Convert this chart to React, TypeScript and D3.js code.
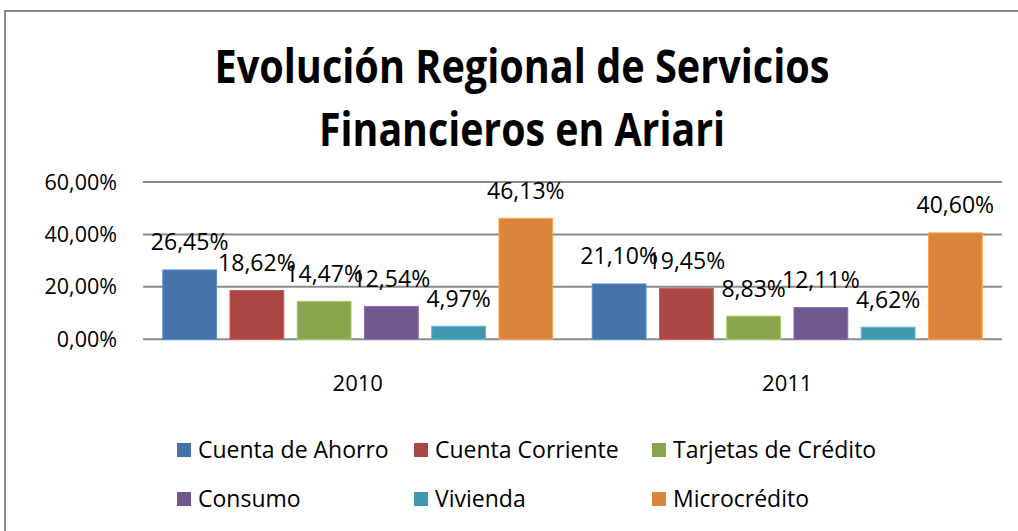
import React from "react";
import * as d3 from "d3";

const title = ["Evolución Regional de Servicios", "Financieros en Ariari"];
const years = ["2010", "2011"];
const seriesNames = [
  "Cuenta de Ahorro",
  "Cuenta Corriente",
  "Tarjetas de Crédito",
  "Consumo",
  "Vivienda",
  "Microcrédito",
];
const values2010 = [26.45, 18.62, 14.47, 12.54, 4.97, 46.13];
const values2011 = [21.1, 19.45, 8.83, 12.11, 4.62, 40.6];
const yTicks = [0, 20, 40, 60];
const colors = ["#4572a7", "#aa4643", "#89a54e", "#71588f", "#4198af", "#db843d"];

const fmt = (v: number) => v.toFixed(2).replace(".", ",") + "%";

export default function App() {
  const W = 1018;
  const H = 531;
  const plotL = 143;
  const plotR = 1002;
  const y = d3.scaleLinear().domain([0, 60]).range([339.3, 182]);
  const x0 = d3.scaleBand<string>().domain(years).range([plotL, plotR]).paddingInner(0.092).paddingOuter(0.046);
  const x1 = d3
    .scaleBand<string>()
    .domain(seriesNames)
    .range([0, x0.bandwidth()])
    .paddingInner(0.2);
  const data = [values2010, values2011];
  const font = "'Open Sans', 'Noto Sans', sans-serif";
  const legendCols = [177, 414, 652];
  const legendRows = [450, 499];

  return (
    <svg
      width={W}
      height={H}
      style={{ position: "absolute", left: 0, top: 0, background: "#fff" }}
      fontFamily={font}
    >
      <rect x={0} y={0} width={W} height={H} fill="#fff" />
      <rect x={5} y={11} width={1100} height={700} fill="none" stroke="#8a8a8a" strokeWidth={2} />
      {title.map((t, i) => (
        <text
          key={i}
          x={522}
          y={i === 0 ? 83 : 146}
          textAnchor="middle"
          fontSize={47}
          fontWeight={700}
          fill="#000"
          textLength={i === 0 ? 615 : 406}
          lengthAdjust="spacingAndGlyphs"
        >
          {t}
        </text>
      ))}
      {yTicks.map((t) => (
        <g key={t}>
          <line x1={plotL} x2={plotR} y1={y(t)} y2={y(t)} stroke="#8c8c8c" strokeWidth={2} />
          <text x={117} y={y(t) + 7.5} textAnchor="end" fontSize={21.5} fill="#000">
            {t.toFixed(2).replace(".", ",") + "%"}
          </text>
        </g>
      ))}
      {years.map((yr, gi) => (
        <g key={yr} transform={`translate(${x0(yr)},0)`}>
          {seriesNames.map((s, si) => {
            const v = data[gi][si];
            const bx = x1(s)!;
            const bw = x1.bandwidth();
            return (
              <g key={s}>
                <rect
                  x={bx}
                  y={y(v)}
                  width={bw}
                  height={y(0) - y(v)}
                  fill={colors[si]}
                  stroke={d3.color(colors[si])!.brighter(0.6).formatHex()}
                  strokeWidth={1}
                />
                <text x={bx + bw / 2} y={y(v) - 19.5} textAnchor="middle" fontSize={23} fill="#000">
                  {fmt(v)}
                </text>
              </g>
            );
          })}
          <text x={x0.bandwidth() / 2} y={391} textAnchor="middle" fontSize={22} fill="#000">
            {yr}
          </text>
        </g>
      ))}
      {seriesNames.map((s, i) => {
        const cx = legendCols[i % 3];
        const cy = legendRows[Math.floor(i / 3)];
        return (
          <g key={s}>
            <rect x={cx} y={cy - 7} width={14} height={14} fill={colors[i]} />
            <text x={cx + 21} y={cy + 8} fontSize={23} fill="#000">
              {s}
            </text>
          </g>
        );
      })}
    </svg>
  );
}
